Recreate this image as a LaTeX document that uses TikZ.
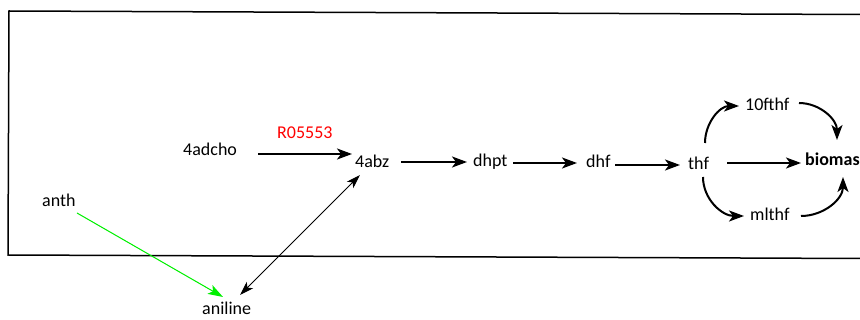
\documentclass[tikz,border=0pt]{standalone}
\usepackage{fontspec}
\setmainfont{Carlito}
\usetikzlibrary{arrows.meta,calc}
\tikzset{
  lbl/.style={anchor=base west,inner sep=0pt,font=\fontsize{18}{21}\selectfont},
  arr/.style={line width=2pt,-{Stealth[length=15pt,width=11pt,inset=4pt]}},
  thin/.style={line width=1pt,-{Stealth[length=15pt,width=10pt,inset=3.5pt]}},
  thinboth/.style={line width=1pt,{Stealth[length=14pt,width=9pt,inset=3.5pt]}-{Stealth[length=14pt,width=9pt,inset=3.5pt]}},
  frame/.style={line width=1.5pt,draw=black}
}
\definecolor{pgreen}{RGB}{0,240,0}
\definecolor{pred}{RGB}{255,0,0}
\begin{document}
\begin{tikzpicture}[x=1pt,y=-1pt]
\clip (0,0) rectangle (860,320);
\fill[white] (0,0) rectangle (860,320);
\draw[frame] (862,14.5) -- (9,11) -- (8,255) -- (862,258.5);
\node[lbl] (adcho) at (183,156) {4adcho};
\node[lbl,text=pred] (rx) at (277,139) {R05553};
\node[lbl] (abz) at (355,168) {4abz};
\node[lbl] (anth) at (42,207) {anth};
\node[lbl] (aniline) at (202,315) {aniline};
\node[lbl] (dhpt) at (473,167) {dhpt};
\node[lbl] (dhf) at (586,168) {dhf};
\node[lbl] (thf) at (688,170) {thf};
\node[lbl,font=\fontsize{18}{21}\selectfont\bfseries] (bio) at (805,166) {biomas};
\node[lbl] (ften) at (745,111) {10fthf};
\node[lbl] (mlthf) at (750,221) {mlthf};
\draw[arr] ($(adcho.base west)+(75,-2)$) -- ($(abz.base west)+(-3,-14)$);
\draw[arr] ($(abz.base west)+(46,-6)$) -- ($(dhpt.base west)+(-6,-5)$);
\draw[arr] ($(dhpt.base west)+(40,-4)$) -- ($(dhf.base west)+(-9,-5)$);
\draw[arr] ($(dhf.base west)+(29,-3)$) -- ($(thf.base west)+(-8,-5)$);
\draw[arr] ($(thf.base west)+(39,-7)$) -- ($(bio.base west)+(-4,-3)$);
\draw[arr] ($(thf.base west)+(17,-27)$) to[out=90,in=180] ($(ften.base west)+(-6,-5)$);
\draw[arr] ($(ften.base west)+(54,-8)$) to[out=0,in=90] ($(bio.base west)+(32,-26)$);
\draw[arr] ($(thf.base west)+(15,7)$) to[out=-90,in=180] ($(mlthf.base west)+(-6,-5)$);
\draw[arr] ($(mlthf.base west)+(51,-5)$) to[out=0,in=-90] ($(bio.base west)+(38,11)$);
\draw[thin,draw=pgreen,fill=pgreen] ($(anth.base west)+(35,6)$) -- ($(aniline.base west)+(21,-18)$);
\draw[thinboth] ($(abz.base west)+(5,7)$) -- ($(aniline.base west)+(38,-20)$);
\end{tikzpicture}
\end{document}
